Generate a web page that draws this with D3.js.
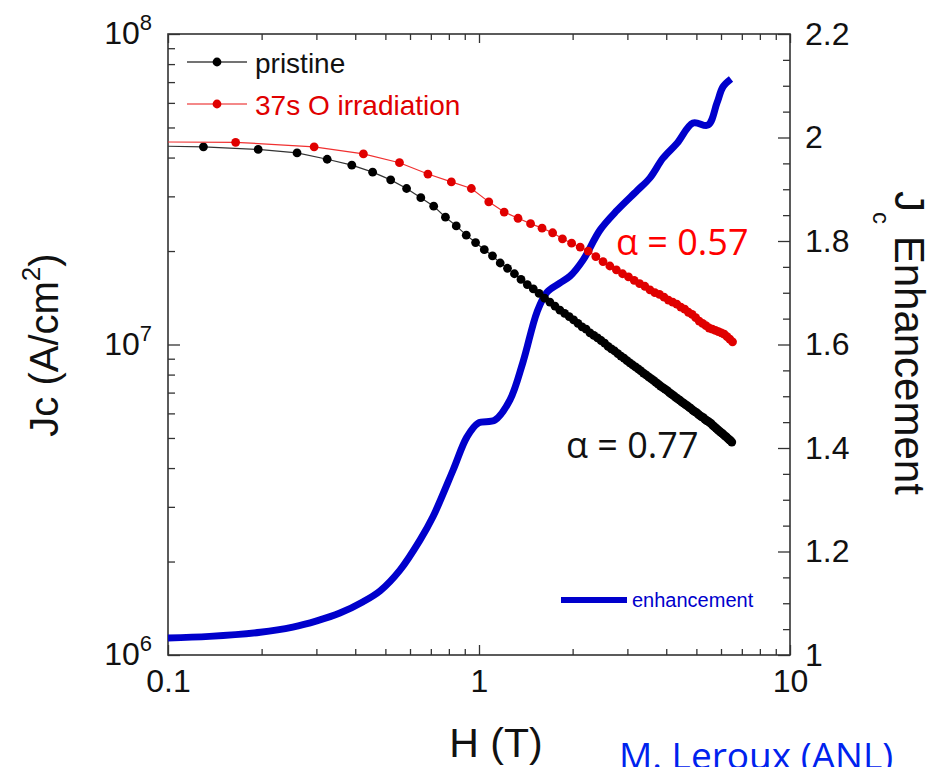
<!DOCTYPE html>
<html>
<head>
<meta charset="utf-8">
<script src="https://cdn.jsdelivr.net/npm/d3@7"></script>
<style>
  body { margin: 0; background: #fff; }
  svg { display: block; }
</style>
</head>
<body>
<svg id="chart" width="938" height="767"></svg>
<script>
// ---- data -------------------------------------------------------------
// Pristine film: applied field H (T) and critical current density Jc (A/cm^2)
const fieldPristine = [
  0.100,
  0.130, 0.195, 0.260, 0.325, 0.390, 0.455, 0.520, 0.585, 0.650, 0.715,
  0.780, 0.845, 0.910, 0.975, 1.040, 1.105, 1.170, 1.235, 1.300, 1.365,
  1.430, 1.495, 1.560, 1.625, 1.690, 1.755, 1.820, 1.885, 1.950, 2.015,
  2.080, 2.145, 2.210, 2.275, 2.340, 2.405, 2.470, 2.535, 2.600, 2.665,
  2.730, 2.795, 2.860, 2.925, 2.990, 3.055, 3.120, 3.185, 3.250, 3.315,
  3.380, 3.445, 3.510, 3.575, 3.640, 3.705, 3.770, 3.835, 3.900, 3.965,
  4.030, 4.095, 4.160, 4.225, 4.290, 4.355, 4.420, 4.485, 4.550, 4.615,
  4.680, 4.745, 4.810, 4.875, 4.940, 5.005, 5.070, 5.135, 5.200, 5.265,
  5.330, 5.395, 5.460, 5.525, 5.590, 5.655, 5.720, 5.785, 5.850, 5.915,
  5.980, 6.045, 6.110, 6.175, 6.240, 6.305, 6.370, 6.435, 6.500
];
const jcPristine = [
  4.35e7,
  4.33e7, 4.25e7, 4.14e7, 3.95e7, 3.78e7, 3.59e7, 3.39e7, 3.18e7, 2.97e7, 2.79e7,
  2.57e7, 2.41e7, 2.25e7, 2.13e7, 2.02e7, 1.93e7, 1.83e7, 1.76e7, 1.69e7, 1.62e7,
  1.56e7, 1.51e7, 1.46e7, 1.41e7, 1.37e7, 1.33e7, 1.29e7, 1.26e7, 1.23e7, 1.20e7,
  1.17e7, 1.14e7, 1.12e7, 1.09e7, 1.07e7, 1.05e7, 1.03e7, 1.01e7, 9.86e6, 9.68e6,
  9.53e6, 9.35e6, 9.18e6, 9.04e6, 8.87e6, 8.73e6, 8.59e6, 8.47e6, 8.34e6, 8.22e6,
  8.09e6, 7.98e6, 7.87e6, 7.76e6, 7.66e6, 7.55e6, 7.45e6, 7.35e6, 7.26e6, 7.18e6,
  7.10e6, 7.00e6, 6.92e6, 6.84e6, 6.76e6, 6.68e6, 6.62e6, 6.53e6, 6.47e6, 6.40e6,
  6.34e6, 6.27e6, 6.21e6, 6.14e6, 6.08e6, 6.03e6, 5.97e6, 5.90e6, 5.85e6, 5.81e6,
  5.74e6, 5.69e6, 5.65e6, 5.60e6, 5.55e6, 5.48e6, 5.43e6, 5.38e6, 5.32e6, 5.27e6,
  5.22e6, 5.18e6, 5.13e6, 5.08e6, 5.04e6, 4.99e6, 4.94e6, 4.90e6, 4.85e6
];

// After 37 s oxygen irradiation
const fieldIrradiated = [
  0.100,
  0.165, 0.295, 0.425, 0.555, 0.685, 0.815, 0.945, 1.075, 1.205, 1.335,
  1.465, 1.595, 1.725, 1.855, 1.985, 2.115, 2.245, 2.375, 2.505, 2.635,
  2.765, 2.895, 3.025, 3.155, 3.285, 3.415, 3.545, 3.675, 3.805, 3.935,
  4.065, 4.195, 4.325, 4.455, 4.585, 4.715, 4.845, 4.975, 5.105, 5.235,
  5.365, 5.495, 5.625, 5.755, 5.885, 6.015, 6.145, 6.275, 6.405, 6.535
];
const jcIrradiated = [
  4.49e7,
  4.48e7, 4.33e7, 4.11e7, 3.85e7, 3.54e7, 3.34e7, 3.18e7, 2.88e7, 2.67e7, 2.55e7,
  2.45e7, 2.37e7, 2.29e7, 2.19e7, 2.12e7, 2.06e7, 2.00e7, 1.92e7, 1.85e7, 1.79e7,
  1.74e7, 1.69e7, 1.65e7, 1.61e7, 1.57e7, 1.54e7, 1.50e7, 1.47e7, 1.45e7, 1.42e7,
  1.39e7, 1.37e7, 1.35e7, 1.32e7, 1.30e7, 1.27e7, 1.25e7, 1.22e7, 1.19e7, 1.17e7,
  1.15e7, 1.13e7, 1.12e7, 1.11e7, 1.10e7, 1.09e7, 1.08e7, 1.06e7, 1.04e7, 1.02e7
];

// Jc enhancement (irradiated / pristine), right axis
const fieldEnhancement = [
  0.100, 0.136, 0.198, 0.252, 0.301, 0.357, 0.424, 0.481, 0.557, 0.646,
  0.711, 0.825, 0.914, 0.993, 1.126, 1.258, 1.385, 1.537, 1.654, 1.822,
  1.962, 2.160, 2.449, 2.778, 3.221, 3.546, 3.905, 4.333, 4.877, 5.450,
  5.826, 6.090, 6.461
];
const enhancement = [
  1.033, 1.036, 1.044, 1.054, 1.066, 1.081, 1.103, 1.124, 1.164, 1.222,
  1.267, 1.357, 1.421, 1.448, 1.454, 1.493, 1.566, 1.663, 1.701, 1.719,
  1.732, 1.763, 1.821, 1.859, 1.897, 1.922, 1.960, 1.989, 2.028, 2.024,
  2.067, 2.098, 2.113
];

// Axis ticks
const fieldMajor = [0.1, 1, 10];
const fieldLabels = ["0.1", "1", "10"];
const fieldMinor = [0.2, 0.3, 0.4, 0.5, 0.6, 0.7, 0.8, 0.9, 2, 3, 4, 5, 6, 7, 8, 9];
const jcMajor = [1e6, 1e7, 1e8];
const jcExponents = ["6", "7", "8"];
const jcMinor = [2e6, 3e6, 4e6, 5e6, 6e6, 7e6, 8e6, 9e6, 2e7, 3e7, 4e7, 5e7, 6e7, 7e7, 8e7, 9e7];
const enhMajor = [1, 1.2, 1.4, 1.6, 1.8, 2, 2.2];
const enhLabels = ["1", "1.2", "1.4", "1.6", "1.8", "2", "2.2"];
const enhMinor = [1.05, 1.1, 1.15, 1.25, 1.3, 1.35, 1.45, 1.5, 1.55, 1.65, 1.7, 1.75,
                  1.85, 1.9, 1.95, 2.05, 2.1, 2.15];

// ---- layout -----------------------------------------------------------
const svg = d3.select("#chart");
const plot = { left: 168, right: 790, top: 34, bottom: 655 };
const SANS = "'Liberation Sans', Arial, sans-serif";
const LABEL = "'Open Sans', sans-serif";
const AXIS_COLOR = "#333";
const BLACK = "#000";
const RED = "#e00000";
const BLUE = "#0000cc";

const x = d3.scaleLog().domain([0.1, 10]).range([plot.left, plot.right]);
const yJ = d3.scaleLog().domain([1e6, 1e8]).range([plot.bottom, plot.top]);
const yE = d3.scaleLinear().domain([1, 2.2]).range([plot.bottom, plot.top]);

function tidy(g) {
  g.select(".domain").remove();
  g.selectAll(".tick line").attr("stroke", AXIS_COLOR).attr("stroke-width", 1.3);
  g.selectAll(".tick text")
    .attr("font-family", SANS).attr("font-size", 32).attr("fill", "#111");
}

// minor ticks
svg.append("g").attr("transform", `translate(${plot.left},0)`)
  .call(d3.axisLeft(yJ).tickValues(jcMinor).tickSize(-7).tickFormat("")).call(tidy);
svg.append("g").attr("transform", `translate(${plot.right},0)`)
  .call(d3.axisRight(yE).tickValues(enhMinor).tickSize(-7).tickFormat("")).call(tidy);
svg.append("g").attr("transform", `translate(0,${plot.bottom})`)
  .call(d3.axisBottom(x).tickValues(fieldMinor).tickSize(-6).tickFormat("")).call(tidy);
svg.append("g").attr("transform", `translate(0,${plot.top})`)
  .call(d3.axisTop(x).tickValues(fieldMinor).tickSize(-6).tickFormat("")).call(tidy);

// major ticks with labels
const leftAxis = svg.append("g").attr("transform", `translate(${plot.left},0)`)
  .call(d3.axisLeft(yJ).tickValues(jcMajor).tickSize(-12).tickPadding(16).tickFormat(""))
  .call(tidy);
leftAxis.selectAll(".tick text").each(function (d, i) {
  const t = d3.select(this).attr("dy", "0.3em");
  t.append("tspan").text("10");
  t.append("tspan").attr("font-size", 22).attr("dy", "-0.62em").text(jcExponents[i]);
});

svg.append("g").attr("transform", `translate(${plot.right},0)`)
  .call(d3.axisRight(yE).tickValues(enhMajor).tickSize(-12).tickPadding(15)
    .tickFormat((d, i) => enhLabels[i]))
  .call(tidy);

svg.append("g").attr("transform", `translate(0,${plot.bottom})`)
  .call(d3.axisBottom(x).tickValues(fieldMajor).tickSize(-10).tickPadding(14)
    .tickFormat((d, i) => fieldLabels[i]))
  .call(tidy);
svg.append("g").attr("transform", `translate(0,${plot.top})`)
  .call(d3.axisTop(x).tickValues(fieldMajor).tickSize(-9).tickFormat(""))
  .call(tidy);

// frame
svg.append("rect")
  .attr("x", plot.left).attr("y", plot.top)
  .attr("width", plot.right - plot.left).attr("height", plot.bottom - plot.top)
  .attr("fill", "none").attr("stroke", AXIS_COLOR).attr("stroke-width", 1.6);

// ---- series -----------------------------------------------------------
const enhData = d3.zip(fieldEnhancement, enhancement);
svg.append("path")
  .datum(enhData)
  .attr("fill", "none").attr("stroke", BLUE).attr("stroke-width", 7)
  .attr("stroke-linejoin", "round")
  .attr("d", d3.line().x(d => x(d[0])).y(d => yE(d[1])).curve(d3.curveCatmullRom.alpha(0.5)));

const jcLine = d3.line().x(d => x(d[0])).y(d => yJ(d[1]));

function drawSeries(fields, values, lineColor, dotColor) {
  const data = d3.zip(fields, values);
  svg.append("path").datum(data)
    .attr("fill", "none").attr("stroke", lineColor).attr("stroke-width", 1.2)
    .attr("d", jcLine);
  // the 0.1 T reading starts the trace; symbols begin at the next reading
  svg.append("g").selectAll("circle").data(data.slice(1)).join("circle")
    .attr("cx", d => x(d[0])).attr("cy", d => yJ(d[1])).attr("r", 4.4)
    .attr("fill", dotColor);
}
drawSeries(fieldPristine, jcPristine, "#333", BLACK);
drawSeries(fieldIrradiated, jcIrradiated, "#f03030", RED);

// ---- legends ------------------------------------------------------------
const legend = svg.append("g");
[
  { y: 62, line: "#444", dot: BLACK, text: "pristine", fill: "#111" },
  { y: 104, line: "#f06060", dot: RED, text: "37s O irradiation", fill: RED }
].forEach(item => {
  legend.append("line").attr("x1", 187).attr("x2", 247).attr("y1", item.y).attr("y2", item.y)
    .attr("stroke", item.line).attr("stroke-width", 1.3);
  legend.append("circle").attr("cx", 217).attr("cy", item.y).attr("r", 4.4).attr("fill", item.dot);
  legend.append("text").attr("x", 255).attr("y", item.y + 11)
    .attr("font-family", SANS).attr("font-size", 28).attr("fill", item.fill).text(item.text);
});

legend.append("line").attr("x1", 561).attr("x2", 627).attr("y1", 600).attr("y2", 600)
  .attr("stroke", BLUE).attr("stroke-width", 6);
legend.append("text").attr("x", 632).attr("y", 607)
  .attr("font-family", SANS).attr("font-size", 20).attr("fill", BLUE).text("enhancement");

// ---- annotations ------------------------------------------------------
svg.append("text").attr("x", 616).attr("y", 255)
  .attr("font-family", LABEL).attr("font-size", 36).attr("fill", "#ff0000").text("α = 0.57");
svg.append("text").attr("x", 566).attr("y", 458)
  .attr("font-family", LABEL).attr("font-size", 36).attr("fill", "#111").text("α = 0.77");
svg.append("text").attr("x", 619).attr("y", 769)
  .attr("font-family", LABEL).attr("font-size", 37).attr("fill", "#0022ee").text("M. Leroux (ANL)");

// ---- axis titles ------------------------------------------------------
const yTitle = svg.append("text")
  .attr("transform", "translate(58,345) rotate(-90)")
  .attr("text-anchor", "middle")
  .attr("font-family", SANS).attr("font-size", 40).attr("fill", "#111");
yTitle.append("tspan").text("Jc (A/cm");
yTitle.append("tspan").attr("font-size", 26).attr("dy", "-0.7em").text("2");
yTitle.append("tspan").attr("dy", "0.45em").text(")");

svg.append("text").attr("x", 496).attr("y", 757).attr("text-anchor", "middle")
  .attr("font-family", SANS).attr("font-size", 41).attr("fill", "#111").text("H (T)");

const rTitle = svg.append("text")
  .attr("transform", "translate(895,191) rotate(90)")
  .attr("font-family", SANS).attr("font-size", 42).attr("fill", "#111");
rTitle.append("tspan").text("J");
rTitle.append("tspan").attr("font-size", 24).attr("dy", 22).text("c");
rTitle.append("tspan").attr("dy", -22).text(" Enhancement");
</script>
</body>
</html>
